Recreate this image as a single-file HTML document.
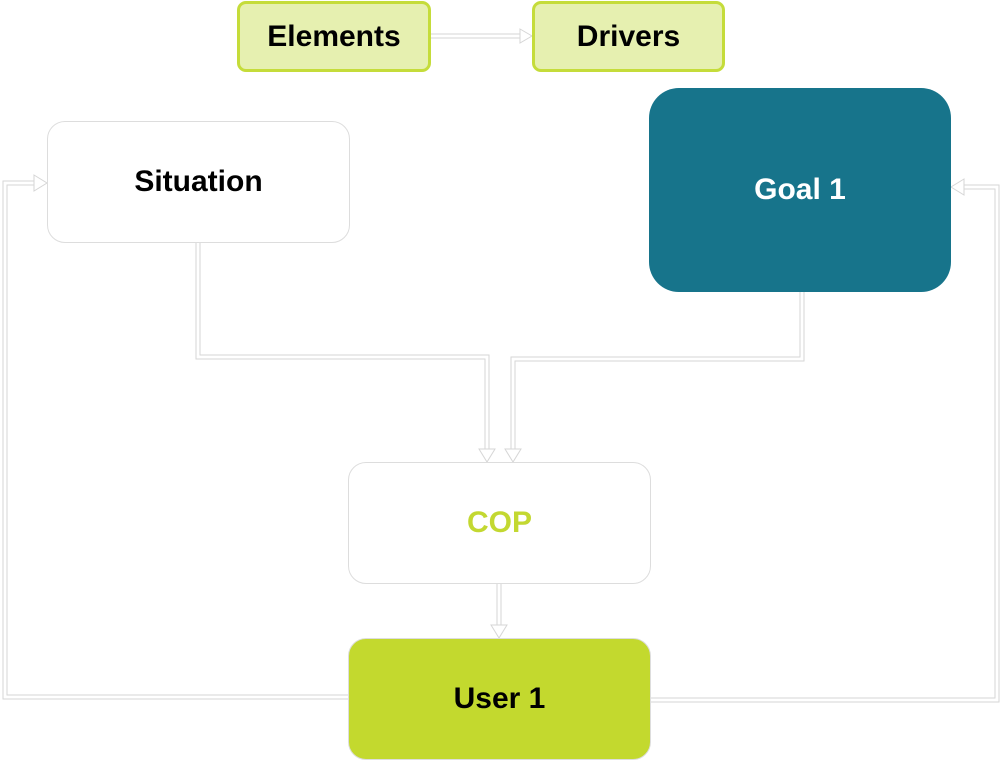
<!DOCTYPE html>
<html><head><style>
body{margin:0;width:1000px;height:760px;background:#fff;position:relative;overflow:hidden;font-family:"Liberation Sans",sans-serif;font-weight:bold}
.b{position:absolute;box-sizing:border-box;display:flex;align-items:center;justify-content:center;font-size:30px}
svg{position:absolute;left:0;top:0}
</style></head><body>
<svg width="1000" height="760">
<g fill="none" stroke-linejoin="miter">
<g stroke="#d6d6d6" stroke-width="5">
<path d="M430 36H522"/>
<path d="M198 242V357H487V452"/>
<path d="M802 291V359H513V452"/>
<path d="M499 583V628"/>
<path d="M348 697H5V183H37"/>
<path d="M651 700H997V187H961"/>
</g>
<g stroke="#fff" stroke-width="3">
<path d="M430 36H524"/>
<path d="M198 242V357H487V454"/>
<path d="M802 291V359H513V454"/>
<path d="M499 583V630"/>
<path d="M348 697H5V183H39"/>
<path d="M651 700H997V187H959"/>
</g>
<g stroke="#d6d6d6" stroke-width="1" fill="#fff">
<path d="M520 29L532 36L520 43Z"/>
<path d="M479 449L487 462L495 449Z"/>
<path d="M505 449L513 462L521 449Z"/>
<path d="M491 625L499 638L507 625Z"/>
<path d="M34 175L47 183L34 191Z"/>
<path d="M964 179L951 187L964 195Z"/>
</g>
</g>
</svg>
<div class="b" style="left:237px;top:1px;width:194px;height:71px;background:#e6f0b0;border:3px solid #c5dc3a;border-radius:9px">Elements</div>
<div class="b" style="left:532px;top:1px;width:193px;height:71px;background:#e6f0b0;border:3px solid #c5dc3a;border-radius:9px">Drivers</div>
<div class="b" style="left:47px;top:121px;width:303px;height:122px;background:#fff;border:1px solid #ddd;border-radius:18px">Situation</div>
<div class="b" style="left:649px;top:88px;width:302px;height:204px;background:#17748b;color:#fff;border-radius:30px">Goal 1</div>
<div class="b" style="left:348px;top:462px;width:303px;height:122px;background:#fff;border:1px solid #ddd;border-radius:18px;color:#c3d831">COP</div>
<div class="b" style="left:348px;top:638px;width:303px;height:122px;background:#c3d92e;border:1px solid #ddd;border-radius:18px">User 1</div>
</body></html>
